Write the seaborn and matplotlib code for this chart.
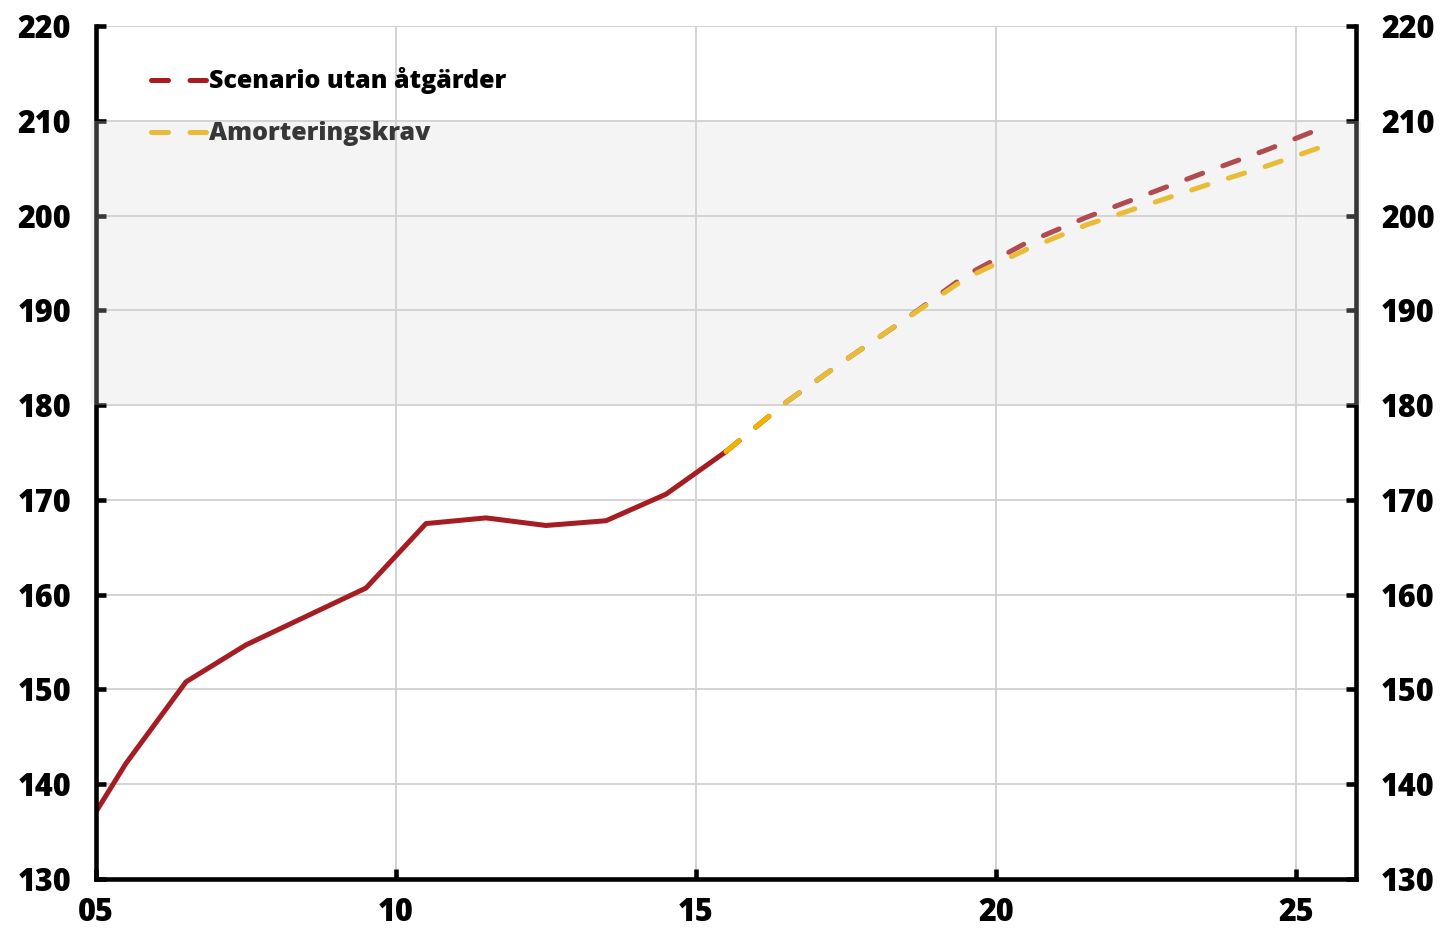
import seaborn as sns
import matplotlib.pyplot as plt

# historical (solid) series
hist_years = [2005.0, 2005.5, 2006.5, 2007.5, 2008.5, 2009.5, 2010.5, 2011.5, 2012.5, 2013.5, 2014.5, 2015.5]
hist_vals = [137.1, 142.2, 150.8, 154.7, 157.7, 160.7, 167.5, 168.1, 167.3, 167.8, 170.6, 175.1]

# projections
proj_years = [2015.5, 2016.5, 2017.5, 2018.5, 2019.5, 2020.5, 2021.5, 2022.5, 2023.5, 2024.5, 2025.5]
scenario_vals = [175.1, 180.3, 184.8, 189.1, 193.7, 197.1, 199.8, 202.2, 204.6, 206.9, 209.4]
amort_vals = [175.1, 180.3, 184.8, 189.1, 193.4, 196.4, 199.0, 201.1, 203.2, 205.2, 207.4]

labels = ["Scenario utan åtgärder", "Amorteringskrav"]
xticks = [2005, 2010, 2015, 2020, 2025]
xticklabels = ["05", "10", "15", "20", "25"]
yticks = list(range(130, 221, 10))

RED = "#a51c22"
YELLOW = "#f0b400"

sns.set_style("white")
plt.rcParams["font.family"] = ["Open Sans", "DejaVu Sans"]
plt.rcParams["font.weight"] = "heavy"
plt.rcParams["text.color"] = "black"
plt.rcParams["xtick.color"] = "black"
plt.rcParams["ytick.color"] = "black"

fig = plt.figure(figsize=(14.45, 9.33), dpi=100)
ax = fig.add_axes([96 / 1445, 1 - 879 / 933, 1260 / 1445, 853 / 933])

dash = (0, (3.4, 4.3))
sns.lineplot(x=hist_years, y=hist_vals, ax=ax, color=RED, lw=3.6, legend=False)
sns.lineplot(x=proj_years, y=scenario_vals, ax=ax, color=RED, lw=3.6, ls=dash,
             dash_capstyle="round", legend=False, label=labels[0])
sns.lineplot(x=proj_years, y=amort_vals, ax=ax, color=YELLOW, lw=3.6, ls=dash,
             dash_capstyle="round", legend=False, label=labels[1])

ax.set_xlim(2005, 2026)
ax.set_ylim(130, 220)
ax.set_xticks(xticks)
ax.set_xticklabels(xticklabels)
ax.set_yticks(yticks)
ax.grid(True, color="#d0d0d0", lw=1.3)
ax.set_axisbelow(True)

for side in ["left", "right", "bottom"]:
    ax.spines[side].set_visible(True)
    ax.spines[side].set_color("black")
    ax.spines[side].set_linewidth(3.3)
ax.spines["top"].set_visible(False)

ax.tick_params(axis="both", direction="in", length=7, width=3.3, color="black",
               labelcolor="black", labelsize=22)
ax.tick_params(axis="y", left=True, right=True, labelleft=True, labelright=True, pad=18)
ax.tick_params(axis="x", bottom=True, pad=13)
for t in ax.get_xticklabels() + ax.get_yticklabels():
    t.set_fontweight("heavy")

lines = ax.get_lines()
ax.legend(handles=lines[1:3], labels=labels, loc="upper left",
          bbox_to_anchor=(0.026, 0.978), frameon=False,
          handlelength=2.2, handletextpad=0.1, labelspacing=1.08,
          labelcolor="black", prop={"weight": "heavy", "size": 18})

# translucent grey band over 180-210, drawn above everything
ax.axhspan(180, 210, xmin=-0.004, xmax=1.004, clip_on=False, zorder=10,
           color="#d5d5d5", alpha=0.26, lw=0)

fig.savefig("out.png", dpi=100)
